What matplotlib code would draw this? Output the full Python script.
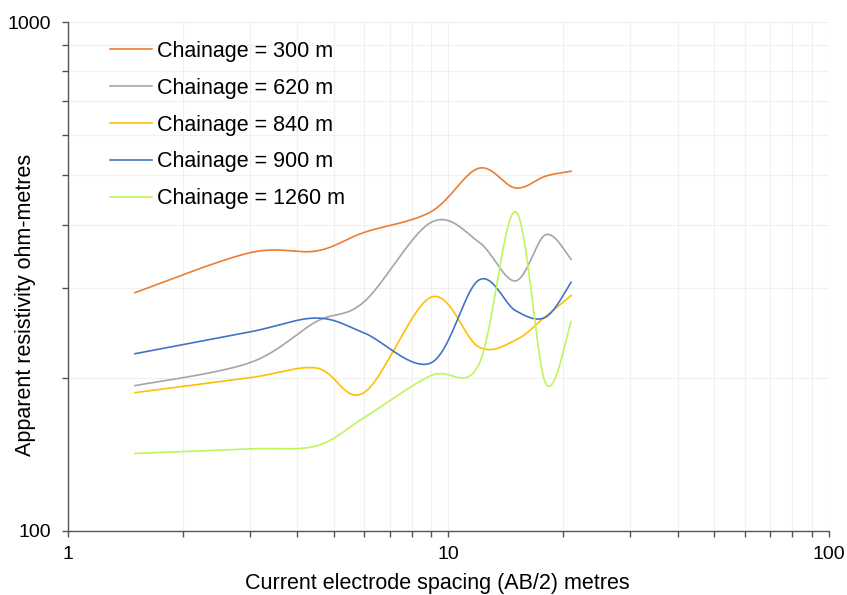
import numpy as np
import matplotlib
matplotlib.use('Agg')
import matplotlib.pyplot as plt
from matplotlib.ticker import LogLocator, NullFormatter, FixedLocator, FixedFormatter

# AB/2 spacings (m)
spacing = [1.5, 3, 4.5, 6, 9, 12, 15, 18, 21]

# apparent resistivity (ohm-m) per chainage
rho_300 = [294, 352, 355, 386, 424, 516, 472, 498, 509]
rho_620 = [193, 214, 258, 282, 404, 370, 310, 382, 342]
rho_840 = [187, 200, 209, 187, 288, 230, 237, 264, 290]
rho_900 = [223, 246, 262, 245, 214, 311, 271, 263, 308]
rho_1260 = [142, 145, 147, 167, 202, 212, 424, 195, 258]

labels = ['Chainage = 300 m', 'Chainage = 620 m', 'Chainage = 840 m',
          'Chainage = 900 m', 'Chainage = 1260 m']
colors = ['#ED7D31', '#A5A5A5', '#FFC000', '#4472C4', '#BDF55A']


def smooth(xs, ys, n=40):
    """Excel-like smoothed line, done in log space (screen space on log axes)"""
    px = np.log10(xs)
    py = np.log10(ys)
    out_x, out_y = [], []
    m = len(px)
    for i in range(m - 1):
        p0 = (px[max(i - 1, 0)], py[max(i - 1, 0)])
        p1 = (px[i], py[i])
        p2 = (px[i + 1], py[i + 1])
        p3 = (px[min(i + 2, m - 1)], py[min(i + 2, m - 1)])
        c1 = (p1[0] + (p2[0] - p0[0]) / 6, p1[1] + (p2[1] - p0[1]) / 6)
        c2 = (p2[0] - (p3[0] - p1[0]) / 6, p2[1] - (p3[1] - p1[1]) / 6)
        t = np.linspace(0, 1, n)
        bx = (1 - t)**3 * p1[0] + 3 * (1 - t)**2 * t * c1[0] + 3 * (1 - t) * t**2 * c2[0] + t**3 * p2[0]
        by = (1 - t)**3 * p1[1] + 3 * (1 - t)**2 * t * c1[1] + 3 * (1 - t) * t**2 * c2[1] + t**3 * p2[1]
        out_x.extend(bx)
        out_y.extend(by)
    return 10**np.array(out_x), 10**np.array(out_y)


plt.rcParams['font.family'] = ['Liberation Sans', 'DejaVu Sans']

fig = plt.figure(figsize=(8.47, 5.95), dpi=100)
ax = fig.add_axes([0.0803, 0.1076, 0.8984, 0.8554])

for ys, lab, col in zip([rho_300, rho_620, rho_840, rho_900, rho_1260], labels, colors):
    sx, sy = smooth(spacing, ys)
    ax.plot(sx, sy, color=col, linewidth=1.2, label=lab)

ax.set_xscale('log')
ax.set_yscale('log')
ax.set_xlim(1, 100)
ax.set_ylim(100, 1000)

ax.xaxis.set_major_locator(FixedLocator([1, 10, 100]))
ax.xaxis.set_major_formatter(FixedFormatter(['1', '10', '100']))
ax.xaxis.set_minor_locator(LogLocator(base=10, subs=np.arange(2, 10)))
ax.xaxis.set_minor_formatter(NullFormatter())
ax.yaxis.set_major_locator(FixedLocator([100, 1000]))
ax.yaxis.set_major_formatter(FixedFormatter(['100', '1000']))
ax.yaxis.set_minor_locator(LogLocator(base=10, subs=np.arange(2, 10)))
ax.yaxis.set_minor_formatter(NullFormatter())

ax.grid(True, which='both', color='#F0F0F0', linewidth=0.8)
ax.set_axisbelow(True)

for s in ['top', 'right']:
    ax.spines[s].set_visible(False)
for s in ['left', 'bottom']:
    ax.spines[s].set_color('#555555')
    ax.spines[s].set_linewidth(1.0)

ax.tick_params(axis='both', which='both', direction='out', color='#555555',
               labelsize=14, width=1.0, length=4)
ax.tick_params(axis='x', which='major', pad=7)
ax.tick_params(axis='y', which='major', pad=8)

ax.set_xlabel('Current electrode spacing (AB/2) metres', fontsize=15.5)
ax.xaxis.set_label_coords(0.485, -0.104)
ax.xaxis.label.set_va('center')
ax.set_ylabel('Apparent resistivity ohm-metres', fontsize=15.5)
ax.yaxis.set_label_coords(-0.056, 0.444)
ax.yaxis.label.set_va('center')

ax.legend(loc='upper left', bbox_to_anchor=(0.035, 0.993), frameon=False,
          fontsize=15.5, handlelength=1.95, handletextpad=0.25, labelspacing=0.74,
          borderaxespad=0.3)

fig.savefig('out.png', dpi=100)
